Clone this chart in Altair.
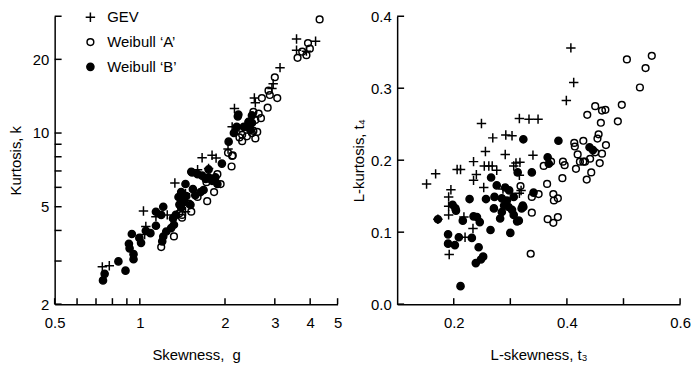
import altair as alt
import pandas as pd

SERIES = ["GEV", "Weibull ‘A’", "Weibull ‘B’"]

# ---- Left panel: skewness g vs kurtosis k ----
gev_g = [0.737, 0.78, 1.03, 1.04, 1.05, 1.14, 1.25, 1.33, 1.45, 1.45, 1.60, 1.75, 1.66, 1.80, 1.86,
         2.12, 2.18, 2.16, 2.54, 2.56, 2.93, 2.96, 3.13, 3.58, 3.58, 3.88, 4.18, 2.05]
gev_k = [2.84, 2.87, 4.80, 3.85, 4.15, 4.55, 4.63, 6.25, 5.65, 4.77, 7.08, 7.16, 7.93, 8.11, 7.9,
         10.6, 10.2, 12.6, 13.9, 13.3, 15.2, 15.9, 18.5, 24.2, 21.8, 21.6, 23.7, 8.6]

wa_g = [4.32, 3.93, 3.99, 3.61, 3.88, 3.75, 3.00, 2.85, 2.88, 2.70, 3.06, 2.83, 2.52, 2.63, 2.68,
        2.56, 2.52, 2.60, 2.30, 2.25, 2.30, 2.49, 2.56, 2.12, 2.11, 1.88, 1.93, 1.83, 1.73, 1.49,
        1.52, 1.38, 1.41, 1.32, 1.19, 1.72, 1.60, 1.41, 2.05, 2.39, 1.83, 2.13]
wa_k = [29.1, 23.3, 22.1, 20.3, 20.8, 21.5, 16.9, 14.9, 14.3, 13.9, 13.9, 12.7, 12.2, 12.0, 11.5,
        11.3, 10.2, 10.1, 9.84, 9.6, 9.26, 10.0, 9.5, 8.06, 7.30, 6.79, 6.19, 5.74, 5.27, 5.15,
        4.77, 4.70, 4.63, 3.78, 3.42, 6.30, 5.48, 4.51, 8.3, 9.7, 6.5, 8.1]

wb_g = [0.741, 0.751, 0.84, 0.89, 0.92, 0.915, 0.95, 0.95, 0.937, 0.996, 1.01, 1.05, 1.09, 1.14,
        1.19, 1.21, 1.20, 1.21, 1.24, 1.29, 1.32, 1.31, 1.34, 1.37, 1.43, 1.46, 1.51, 1.45, 1.40,
        1.54, 1.57, 1.64, 1.68, 1.53, 1.60, 1.66, 1.75, 1.71, 1.80, 1.85, 1.88, 1.95, 2.06, 2.15,
        2.22, 2.23, 2.33, 2.39, 2.42, 2.49, 2.46, 2.49, 1.14, 1.52, 1.38, 1.42, 1.40, 2.20, 1.75]
wb_k = [2.50, 2.66, 2.99, 2.74, 3.38, 3.53, 3.20, 3.05, 3.87, 3.73, 3.56, 3.99, 3.90, 4.18,
        4.63, 5.0, 3.61, 3.78, 3.96, 4.09, 4.22, 4.48, 4.63, 5.48, 5.23, 5.53, 5.09, 6.19, 5.74,
        5.90, 5.57, 5.74, 5.85, 6.90, 6.79, 6.70, 6.59, 6.49, 6.38, 6.59, 6.19, 7.50, 9.22, 10.0,
        11.7, 11.9, 10.6, 10.6, 11.1, 11.8, 10.3, 11.0, 4.77, 6.95, 5.1, 5.3, 4.95, 10.6, 7.1]

# ---- Right panel: L-skewness t3 vs L-kurtosis t4 ----
gev_t3 = [0.152, 0.168, 0.192, 0.195, 0.191, 0.191, 0.191, 0.206, 0.212, 0.218, 0.220, 0.234,
          0.235, 0.240, 0.235, 0.249, 0.256, 0.253, 0.254, 0.262, 0.268, 0.269, 0.276, 0.291,
          0.292, 0.303, 0.287, 0.306, 0.310, 0.317, 0.319, 0.316, 0.333, 0.349, 0.340, 0.316,
          0.316, 0.407, 0.412, 0.399, 0.172]
gev_t4 = [0.167, 0.181, 0.069, 0.159, 0.149, 0.136, 0.124, 0.187, 0.187, 0.121, 0.093, 0.105,
          0.172, 0.180, 0.198, 0.251, 0.212, 0.162, 0.192, 0.192, 0.192, 0.231, 0.186, 0.208,
          0.235, 0.234, 0.160, 0.192, 0.196, 0.197, 0.158, 0.258, 0.257, 0.257, 0.207, 0.179,
          0.154, 0.356, 0.308, 0.283, 0.118]

wa_t3 = [0.318, 0.338, 0.338, 0.350, 0.336, 0.359, 0.372, 0.365, 0.376, 0.377, 0.384, 0.366,
         0.376, 0.384, 0.393, 0.396, 0.392, 0.413, 0.414, 0.429, 0.419, 0.416, 0.423, 0.429,
         0.432, 0.441, 0.450, 0.462, 0.458, 0.443, 0.435, 0.436, 0.450, 0.462, 0.468, 0.460,
         0.456, 0.454, 0.469, 0.490, 0.497, 0.506, 0.529, 0.539, 0.550]
wa_t4 = [0.164, 0.149, 0.127, 0.153, 0.070, 0.192, 0.198, 0.167, 0.153, 0.144, 0.147, 0.118,
         0.113, 0.121, 0.198, 0.193, 0.175, 0.224, 0.219, 0.227, 0.208, 0.188, 0.198, 0.198,
         0.198, 0.202, 0.211, 0.209, 0.196, 0.183, 0.173, 0.263, 0.275, 0.269, 0.270, 0.252,
         0.236, 0.230, 0.221, 0.254, 0.277, 0.340, 0.301, 0.328, 0.345]

wb_t3 = [0.172, 0.190, 0.190, 0.202, 0.209, 0.203, 0.198, 0.204, 0.212, 0.216, 0.228, 0.232,
         0.235, 0.241, 0.246, 0.244, 0.239, 0.252, 0.248, 0.257, 0.265, 0.266, 0.271, 0.272,
         0.276, 0.282, 0.285, 0.291, 0.294, 0.297, 0.303, 0.300, 0.306, 0.306, 0.312, 0.323,
         0.323, 0.313, 0.385, 0.366, 0.368, 0.338, 0.341, 0.322, 0.320, 0.315, 0.440, 0.446,
         0.289, 0.298, 0.285]
wb_t4 = [0.118, 0.097, 0.084, 0.082, 0.093, 0.133, 0.138, 0.130, 0.025, 0.116, 0.146, 0.092,
         0.122, 0.121, 0.114, 0.079, 0.057, 0.066, 0.062, 0.146, 0.103, 0.176, 0.133, 0.149,
         0.165, 0.119, 0.147, 0.162, 0.144, 0.135, 0.131, 0.099, 0.149, 0.124, 0.115, 0.229,
         0.135, 0.183, 0.227, 0.204, 0.195, 0.183, 0.155, 0.137, 0.133, 0.116, 0.218, 0.214,
         0.137, 0.158, 0.128]

# axis tick values
left_xticks = [0.5, 0.6, 0.7, 0.8, 0.9, 1, 2, 3, 4, 5]
left_xlabels = [0.5, 1, 2, 3, 4, 5]
left_yticks = [2, 3, 4, 5, 6, 7, 8, 9, 10, 20, 30]
left_ylabels = [2, 5, 10, 20]
right_xticks = [0.2, 0.3, 0.4, 0.5, 0.6]
right_xlabels = [0.2, 0.4, 0.6]
right_yticks = [0.0, 0.1, 0.2, 0.3, 0.4]

W, H = 285, 290
FONT = "Liberation Sans"
PLUS = "M-1,0L1,0M0,-1L0,1"
STYLES = [dict(shape=PLUS, size=90, filled=False),
          dict(shape="circle", size=46, filled=False),
          dict(shape="circle", size=52, filled=True)]


def panel(xs, ys, xscale, yscale, xaxis, yaxis, xtitle, ytitle, xt, yt, with_legend):
    X = lambda: alt.X("x:Q", scale=xscale, axis=xaxis, title=xtitle)
    Y = lambda: alt.Y("y:Q", scale=yscale, axis=yaxis, title=ytitle)
    layers = []
    for xv, yv, st in zip(xs, ys, STYLES):
        df = pd.DataFrame({"x": xv, "y": yv})
        layers.append(alt.Chart(df).mark_point(
            shape=st["shape"], size=st["size"], filled=st["filled"],
            color="black", stroke="black", strokeWidth=1.5, opacity=1
        ).encode(x=X(), y=Y()))
    layers.append(alt.Chart(pd.DataFrame({"x": xt})).mark_rule(
        color="black", strokeWidth=1.5, opacity=1
    ).encode(x=X(), y=alt.value(H), y2=alt.value(H - 6)))
    layers.append(alt.Chart(pd.DataFrame({"y": yt})).mark_rule(
        color="black", strokeWidth=1.5, opacity=1
    ).encode(y=Y(), x=alt.value(0), x2=alt.value(7)))
    if with_legend:
        for i, (name, st) in enumerate(zip(SERIES, STYLES)):
            ldf = pd.DataFrame({"label": [name]})
            layers.append(alt.Chart(ldf).mark_point(
                shape=st["shape"], size=st["size"], filled=st["filled"],
                color="black", stroke="black", strokeWidth=1.5, opacity=1
            ).encode(x=alt.value(36), y=alt.value(1 + 25 * i)))
            layers.append(alt.Chart(ldf).mark_text(
                align="left", baseline="middle", font=FONT, fontSize=15, color="black"
            ).encode(x=alt.value(53), y=alt.value(1 + 25 * i), text="label:N"))
    return alt.layer(*layers).properties(width=W, height=H)


def axis(values, fmt, lp, tp):
    return alt.Axis(values=values, format=fmt, labelPadding=lp, titlePadding=tp, ticks=False,
                    grid=False, domain=True, domainColor="black", domainWidth=1.5,
                    domainOpacity=1, labelFlush=False, labelFontSize=15, labelColor="black",
                    labelFont=FONT, titleFontSize=15, titleColor="black", titleFont=FONT,
                    titleFontWeight="normal")


left = panel([gev_g, wa_g, wb_g], [gev_k, wa_k, wb_k],
             alt.Scale(type="log", domain=[0.5, 5], nice=False),
             alt.Scale(type="log", domain=[2, 30], nice=False),
             axis(left_xlabels, "~g", 12, 17), axis(left_ylabels, "~g", 6, 9),
             "Skewness,\u00a0 g", "Kurtosis, k", left_xticks, left_yticks, True)

right = panel([gev_t3, wa_t3, wb_t3], [gev_t4, wa_t4, wb_t4],
              alt.Scale(domain=[0.1, 0.6], nice=False, zero=False),
              alt.Scale(domain=[0.0, 0.4], nice=False, zero=False),
              axis(right_xlabels, ".1f", 12, 17), axis(right_yticks, ".1f", 6, 4),
              "L-skewness, t₃", "L-kurtosis, t₄", right_xticks, right_yticks, False)

chart = alt.hconcat(left, right, spacing=9).properties(
    padding={"left": 0, "top": 0, "right": 0, "bottom": 0},
    background="white",
).configure_view(strokeWidth=0)

chart.save("out.html", embed_options={"renderer": "svg", "actions": False})
